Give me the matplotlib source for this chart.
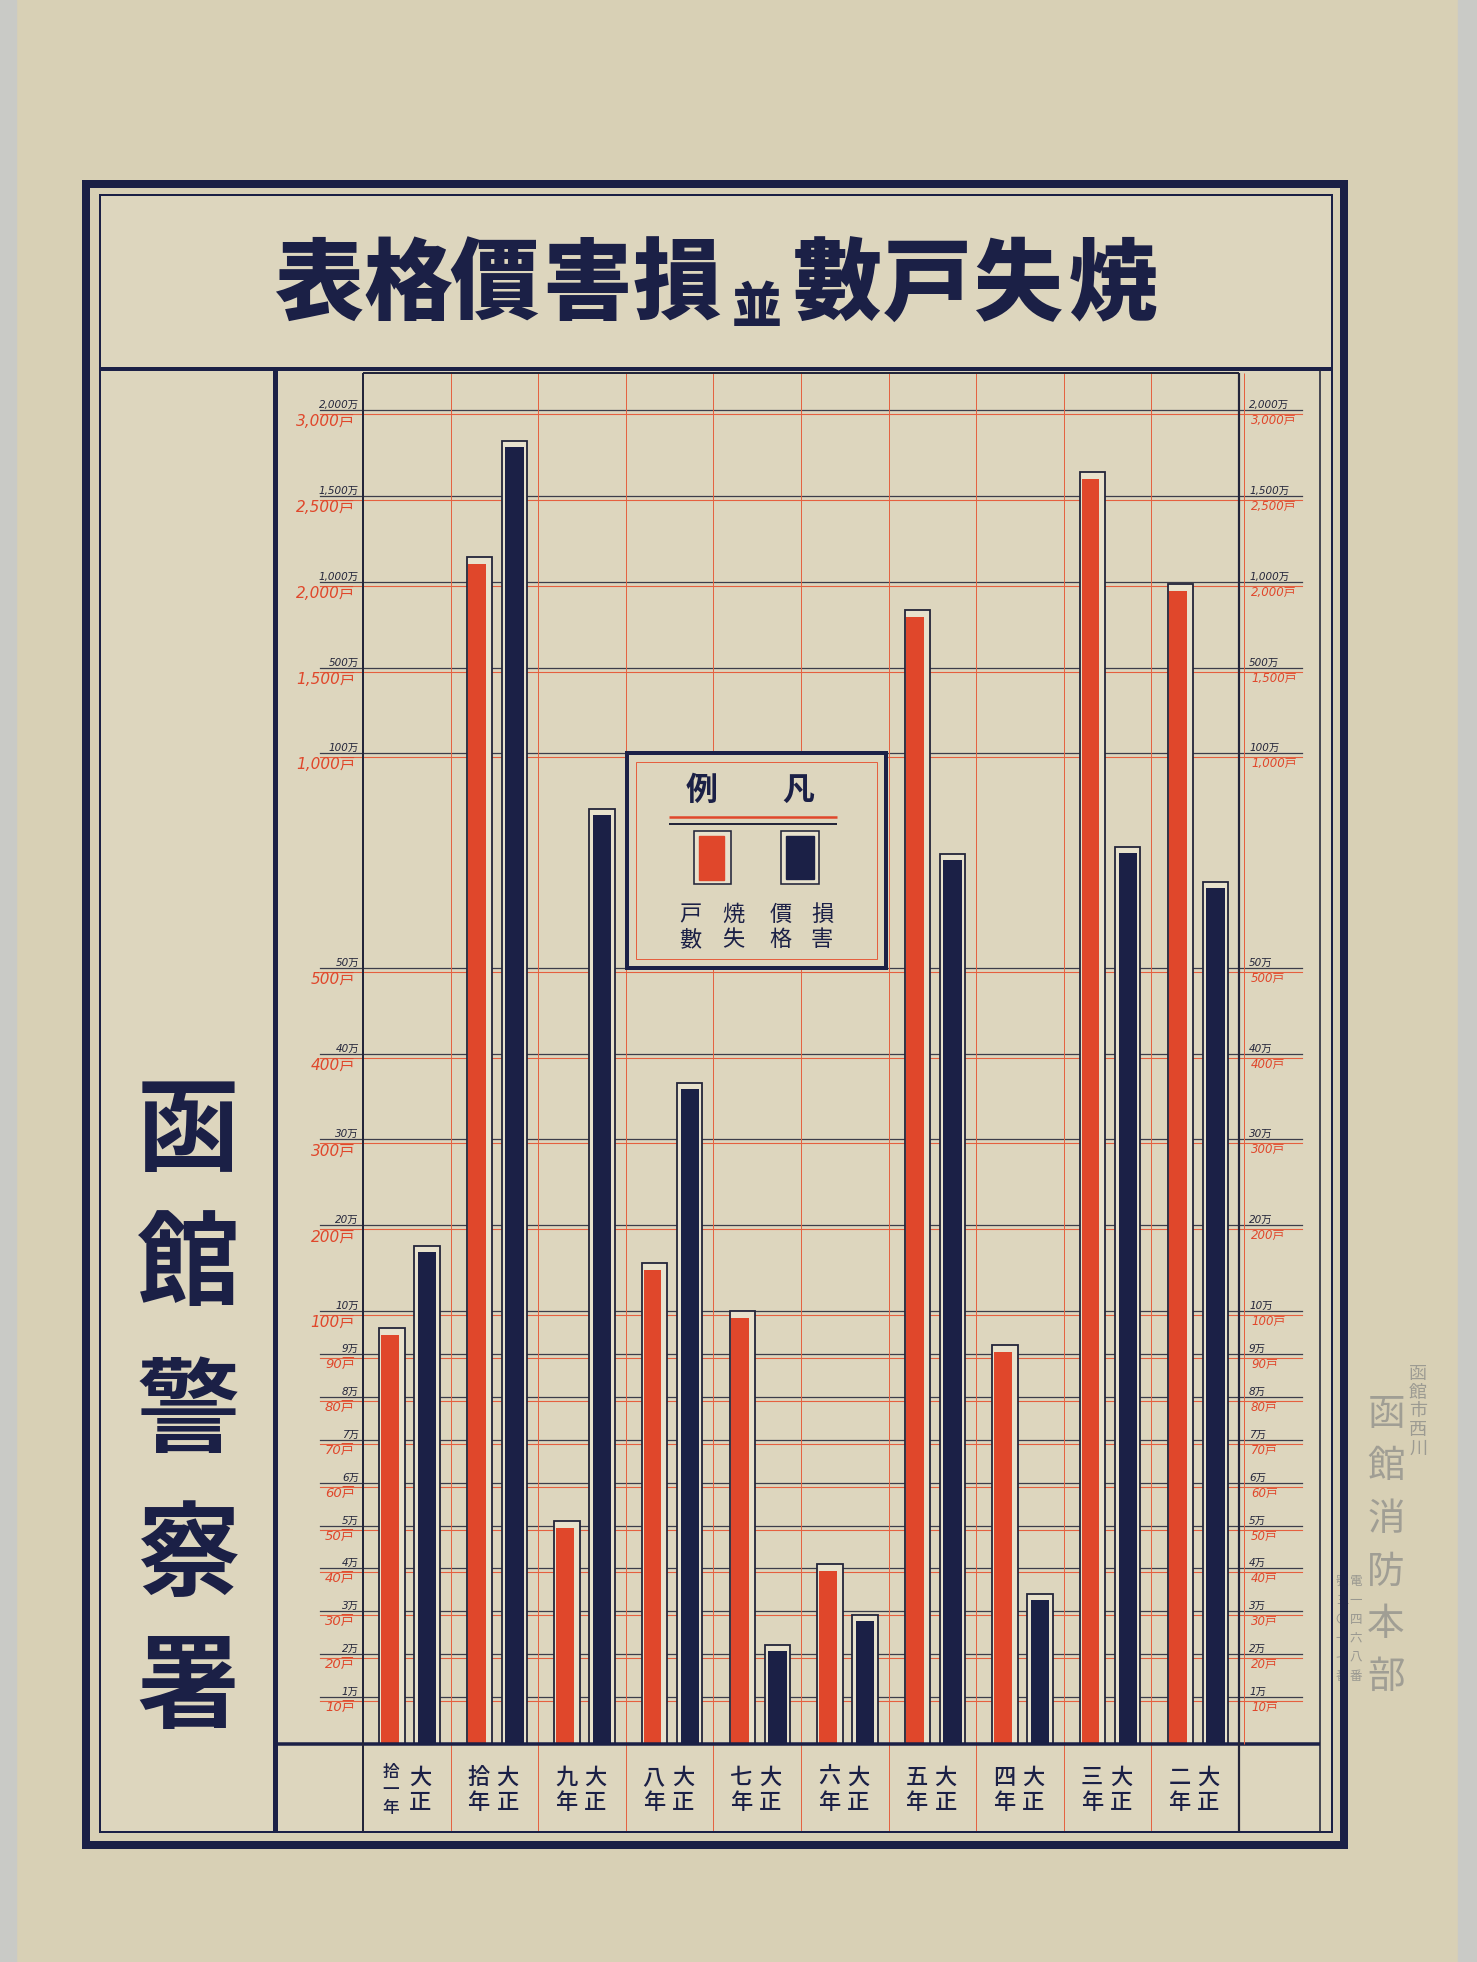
import numpy as np
import matplotlib
matplotlib.use('Agg')
import matplotlib.pyplot as plt
from matplotlib.patches import Rectangle
from matplotlib.lines import Line2D
from matplotlib.transforms import blended_transform_factory, ScaledTranslation

plt.rcParams['font.family'] = ['Noto Sans CJK JP', 'DejaVu Sans']

era = '大正'
years = ['拾一年', '拾年', '九年', '八年', '七年', '六年', '五年', '四年', '三年', '二年']
houses = [97, 2170, 52, 161, 105, 42, 1860, 93, 2665, 2010]     # 焼失戸數 (戸)
damage = [18, 1845, 88, 37, 2.3, 3.0, 77.5, 3.5, 79, 71]       # 損害價格 (万円)

houses_ticks = [10, 20, 30, 40, 50, 60, 70, 80, 90, 100, 200, 300, 400, 500,
                1000, 1500, 2000, 2500, 3000]
houses_labels = ['10戸', '20戸', '30戸', '40戸', '50戸', '60戸', '70戸', '80戸', '90戸',
                 '100戸', '200戸', '300戸', '400戸', '500戸',
                 '1,000戸', '1,500戸', '2,000戸', '2,500戸', '3,000戸']
damage_ticks = [1, 2, 3, 4, 5, 6, 7, 8, 9, 10, 20, 30, 40, 50,
                100, 500, 1000, 1500, 2000]
damage_labels = ['1万', '2万', '3万', '4万', '5万', '6万', '7万', '8万', '9万',
                 '10万', '20万', '30万', '40万', '50万',
                 '100万', '500万', '1,000万', '1,500万', '2,000万']
# ruled row of the sheet that each tick sits on (the scale is hand made, not linear)
tick_rows = [1, 2, 3, 4, 5, 6, 7, 8, 9, 10, 12, 14, 16, 18, 23, 25, 27, 29, 31]

title_chars = '表格價害損並數戸失焼'
office = '函館警察署'

W, H, DPI = 1477, 1962, 100
PAPER = '#d8d0b5'
INNER = '#ddd6be'
CREAM = '#e8e2cd'
NAVY = '#1b2046'
INK = '#23253a'
RED = '#e0472b'
REDLINE = '#e5603f'
GREYINK = '#8e8e8a'

ROW = 42.9  # px per ruled row
top_row = (1744 - 373) / ROW

rows = np.array([0] + tick_rows + [33], dtype=float)
h_knots = np.array([0] + houses_ticks + [3500], dtype=float)
d_knots = np.array([0] + damage_ticks + [2500], dtype=float)

h_fwd = lambda v: np.interp(v, h_knots, rows)
h_inv = lambda r: np.interp(r, rows, h_knots)
d_fwd = lambda v: np.interp(v, d_knots, rows)
d_inv = lambda r: np.interp(r, rows, d_knots)


def fx(x):
    return x / W


def fy(y):
    return 1 - y / H


def pt(px):
    return px * 72 / DPI


fig = plt.figure(figsize=(W / DPI, H / DPI), dpi=DPI)
fig.patch.set_facecolor(PAPER)

# photo background strips and the paper inside the frame
fig.add_artist(Rectangle((0, 0), fx(16), 1, transform=fig.transFigure, color='#c9cac6', zorder=-20))
fig.add_artist(Rectangle((fx(1458), 0), 1, 1, transform=fig.transFigure, color='#c9cac6', zorder=-20))
fig.add_artist(Rectangle((fx(100), fy(1832)), fx(1232) - fx(0), fy(195) - fy(1832),
                         transform=fig.transFigure, color=INNER, zorder=-10))

# ---- chart ----
ax = fig.add_axes([fx(363), fy(1744), (1239 - 363) / W, (1744 - 373) / H])
ax.set_facecolor('none')
ax.set_xlim(0, 10)
ax.set_yscale('function', functions=(h_fwd, h_inv))
ax.set_ylim(0, h_inv(top_row))
ax2 = ax.twinx()
ax2.set_yscale('function', functions=(d_fwd, d_inv))
ax2.set_ylim(0, d_inv(top_row))
for a in (ax, ax2):
    a.set_xticks([])
    a.set_yticks([])
    a.minorticks_off()
    for s in a.spines.values():
        s.set_visible(False)
ax2.patch.set_visible(False)

red_tr = blended_transform_factory(ax.transAxes, ax.transData)
blk_tr = blended_transform_factory(ax.transAxes, ax2.transData) + \
    ScaledTranslation(0, 4 / DPI, fig.dpi_scale_trans)
x_left = -(363 - 320) / 876
x_right = 1 + (1302 - 1239) / 876

for h in houses_ticks:
    ax.plot([x_left, x_right], [h, h], transform=red_tr, color=REDLINE, lw=0.8,
            clip_on=False, zorder=1)
for d in damage_ticks:
    ax.plot([x_left, x_right], [d, d], transform=blk_tr, color='#3c3d4a', lw=0.9,
            clip_on=False, zorder=1)

for k in range(1, 10):
    ax.axvline(k, ymin=-86 / 1371, ymax=1, color=REDLINE, lw=0.7, clip_on=False, zorder=1)

# tick labels, left and right
for h, lab in zip(houses_ticks, houses_labels):
    ax.text(-8 / 876, h, lab, transform=red_tr, ha='right', va='top', color=RED,
            fontsize=11 if h >= 100 else 9.5, style='italic',
            family=['DejaVu Sans', 'Noto Sans CJK JP'])
    ax.text(1 + 12 / 876, h, lab, transform=red_tr, ha='left', va='top', color=RED,
            fontsize=8.5, style='italic', family=['DejaVu Sans', 'Noto Sans CJK JP'])
for d, lab in zip(damage_ticks, damage_labels):
    ax.text(-4 / 876, d, lab, transform=blk_tr, ha='right', va='bottom', color=INK,
            fontsize=7.5, style='italic', family=['DejaVu Sans', 'Noto Sans CJK JP'])
    ax.text(1 + 10 / 876, d, lab, transform=blk_tr, ha='left', va='bottom', color=INK,
            fontsize=7.5, style='italic', family=['DejaVu Sans', 'Noto Sans CJK JP'])

# bars: outlined box with an inset (slightly misregistered) colour fill
xs = np.arange(len(years))
bw = 0.29
px_x = 1 / 87.6
red_c = xs + 0.33
navy_c = xs + 0.73

ax.bar(red_c, houses, width=bw, color=CREAM, edgecolor=INK, lw=1.3, zorder=3)
red_top = h_inv(h_fwd(np.array(houses, dtype=float)) - 7 / ROW)
ax.bar(red_c + (1.5 - 6) / 2 * px_x, red_top, width=bw - 7.5 * px_x, color=RED, lw=0, zorder=4)

ax2.bar(navy_c, damage, width=bw, color=CREAM, edgecolor=INK, lw=1.3, zorder=3)
navy_top = d_inv(d_fwd(np.array(damage, dtype=float)) - 6 / ROW)
ax2.bar(navy_c, navy_top, width=bw - 7 * px_x, color=NAVY, lw=0, zorder=4)

# year labels in the bottom row
xt = ax.get_xaxis_transform()
for i, yr in enumerate(years):
    ax.text(i + 0.5 + 0.15, -46 / 1371, '\n'.join(era), transform=xt, ha='center', va='center',
            fontsize=16, color=NAVY, weight='medium', linespacing=1.1)
    if len(yr) == 3:
        ax.text(i + 0.5 - 0.18, -46 / 1371, '\n'.join(yr), transform=xt, ha='center',
                va='center', fontsize=12, color=NAVY, weight='medium', linespacing=1.0)
    else:
        ax.text(i + 0.5 - 0.18, -46 / 1371, '\n'.join(yr), transform=xt, ha='center',
                va='center', fontsize=16, color=NAVY, weight='medium', linespacing=1.1)


# ---- frame and rules (figure pixels) ----
def hline(y, x0, x1, lw, color=NAVY, z=5):
    fig.add_artist(Line2D([fx(x0), fx(x1)], [fy(y), fy(y)], transform=fig.transFigure,
                          color=color, lw=pt(lw), zorder=z, solid_capstyle='butt'))


def vline(x, y0, y1, lw, color=NAVY, z=5):
    fig.add_artist(Line2D([fx(x), fx(x)], [fy(y0), fy(y1)], transform=fig.transFigure,
                          color=color, lw=pt(lw), zorder=z, solid_capstyle='butt'))


def rect(x0, y0, x1, y1, lw, color=NAVY, face='none', z=5):
    fig.add_artist(Rectangle((fx(x0), fy(y1)), fx(x1) - fx(x0), fy(y0) - fy(y1),
                             transform=fig.transFigure, facecolor=face, edgecolor=color,
                             lw=pt(lw), zorder=z))


rect(86, 184, 1344, 1845, 8)
rect(100, 195, 1332, 1832, 2)
hline(369, 100, 1332, 4)
vline(275, 369, 1832, 5)
vline(1320, 369, 1832, 1.6, color=INK)
hline(373, 363, 1239, 2, color=INK)
hline(1744, 275, 1320, 3.5)
vline(363, 373, 1832, 2, color=INK)
vline(1239, 373, 1832, 2.2, color=INK)
vline(1244, 373, 1744, 1, color=REDLINE)

# title
title_x = [318, 408, 494, 587, 677, 757, 837, 927, 1017, 1113]
for ch, x in zip(title_chars, title_x):
    if ch == '並':
        fig.text(fx(x), fy(308), ch, ha='center', va='center', fontsize=36,
                 weight='heavy', color=NAVY)
    else:
        fig.text(fx(x), fy(286), ch, ha='center', va='center', fontsize=64,
                 weight='heavy', color=NAVY)

# police office name down the left panel
for ch, y in zip(office, [1133, 1267, 1414, 1558, 1690]):
    fig.text(fx(188), fy(y), ch, ha='center', va='center', fontsize=74,
             weight='bold', color=NAVY)

# legend box
rect(627, 753, 886, 968, 4, face=INNER, z=6)
rect(636, 762, 877, 959, 1, color=REDLINE, z=6)
fig.text(fx(702), fy(791), '例', ha='center', va='center', fontsize=23, color=NAVY,
         weight='bold', zorder=7)
fig.text(fx(798), fy(791), '凡', ha='center', va='center', fontsize=23, color=NAVY,
         weight='bold', zorder=7)
hline(817, 669, 837, 2.5, color=RED, z=7)
hline(824, 669, 837, 2, color=INK, z=7)
rect(694, 831, 731, 884, 1.6, color=INK, face=CREAM, z=7)
fig.add_artist(Rectangle((fx(699), fy(880)), fx(724) - fx(699), fy(836) - fy(880),
                         transform=fig.transFigure, color=RED, zorder=8))
rect(781, 831, 819, 884, 1.6, color=INK, face=CREAM, z=7)
fig.add_artist(Rectangle((fx(786), fy(879)), fx(814) - fx(786), fy(836) - fy(879),
                         transform=fig.transFigure, color=NAVY, zorder=8))
for txt, x in zip(['戸數', '焼失', '價格', '損害'], [690, 733, 781, 822]):
    fig.text(fx(x), fy(927), '\n'.join(txt), ha='center', va='center', fontsize=16,
             color=NAVY, linespacing=1.1, zorder=8)

# faint archive stamp on the right margin
fig.text(fx(1418), fy(1365), '\n'.join('函館市西川'), ha='center', va='top', fontsize=13,
         color=GREYINK, alpha=0.8, linespacing=1.05)
fig.text(fx(1386), fy(1395), '\n'.join('函館消防本部'), ha='center', va='top', fontsize=27,
         color=GREYINK, alpha=0.75, linespacing=1.45)
fig.text(fx(1356), fy(1575), '\n'.join('電一四六八番'), ha='center', va='top', fontsize=9,
         color=GREYINK, alpha=0.85, linespacing=1.6)
fig.text(fx(1342), fy(1575), '\n'.join('號三〇一七番'), ha='center', va='top', fontsize=9,
         color=GREYINK, alpha=0.85, linespacing=1.6)

fig.savefig('out.png', dpi=DPI, facecolor=fig.get_facecolor())
